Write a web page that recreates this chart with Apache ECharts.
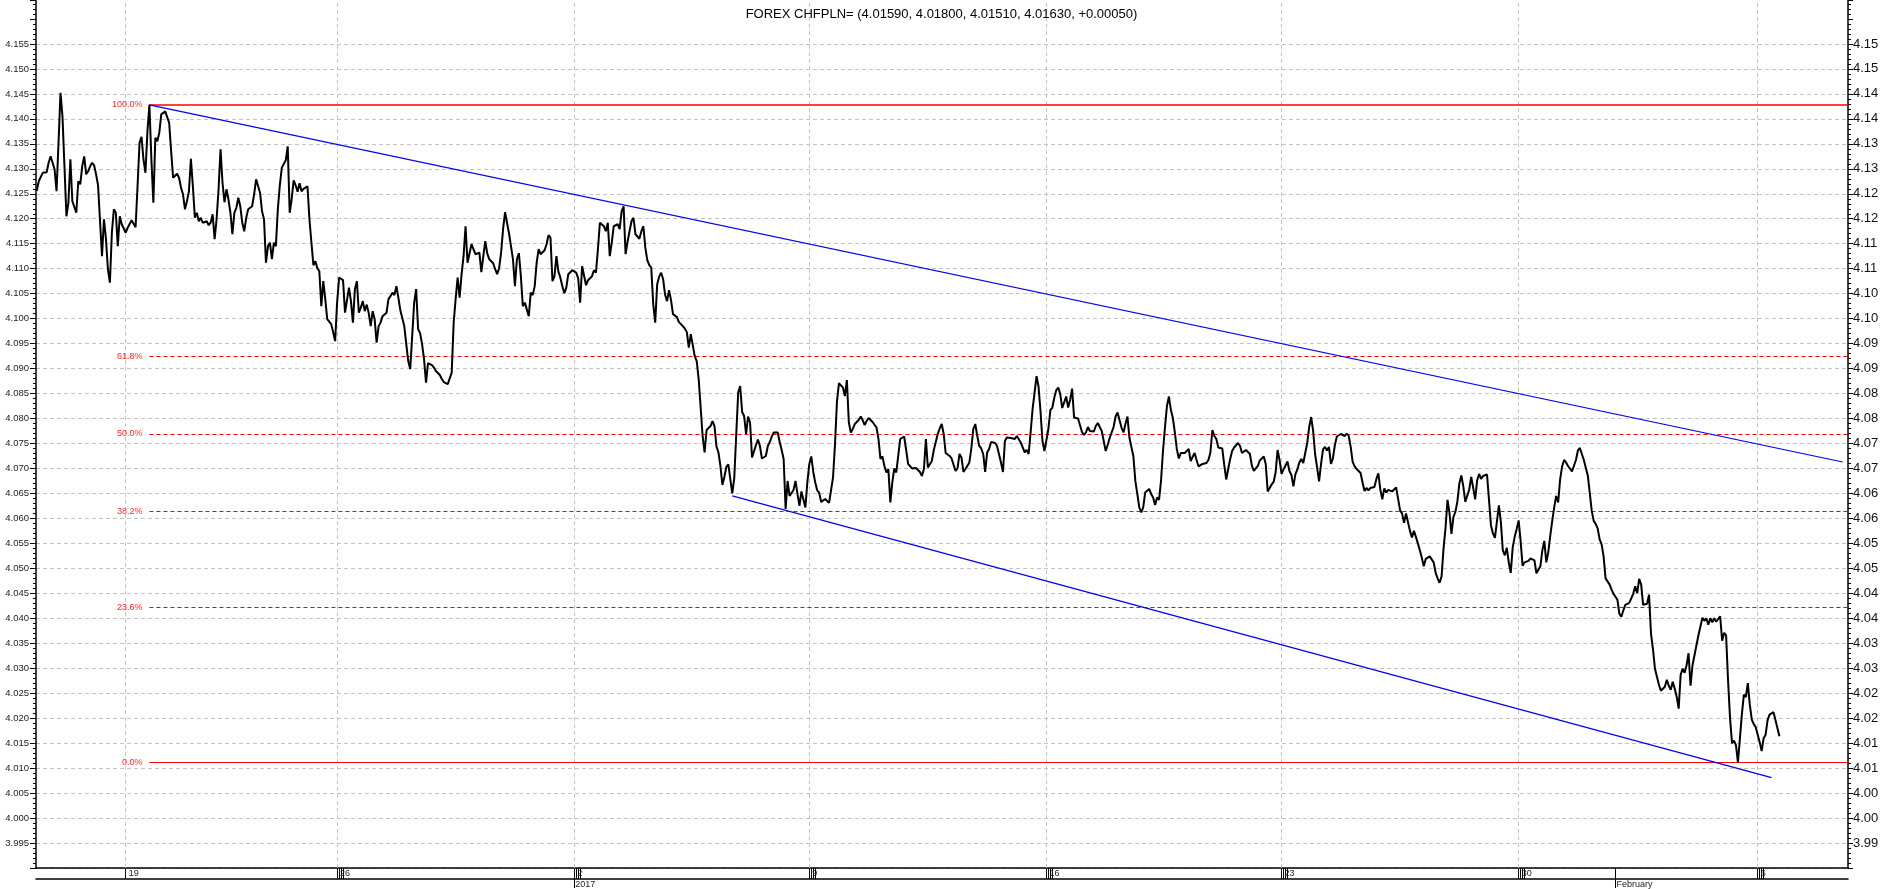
<!DOCTYPE html>
<html>
<head>
    <meta charset="utf-8">
    <title>FOREX CHFPLN=</title>
    <script src="https://cdn.jsdelivr.net/npm/echarts@6.0.0/dist/echarts.min.js"></script>
    <style>
        html, body { margin: 0; padding: 0; background: #fff; }
        #echarts { width: 1883px; height: 889px; }
    </style>
</head>
<body>
<div id="echarts"></div>
<script>
    // hourly closes, trading hours counted from Mon 19 Dec 00:00 (weekends removed)
    var startHour = -44;
    var closes = [
        4.1256,4.1275,4.1277,4.1292,4.1292,4.1293,4.1312,4.1325,4.1329,4.1299,
        4.1255,4.1352,4.1452,4.1405,4.1305,4.1205,4.1232,4.1319,4.1235,4.1239,
        4.1212,4.1275,4.1269,4.1305,4.1325,4.1289,4.1295,4.1305,4.1312,4.1307,
        4.1289,4.1267,4.1267,4.1125,4.1199,4.1160,4.1099,4.1072,4.1172,4.1219,
        4.1212,4.1145,4.1205,4.1189,4.1192,4.1172,4.1182,4.1185,4.1197,4.1190,
        4.1183,4.1265,4.1352,4.1364,4.1319,4.1292,4.1375,4.1428,4.1319,4.1232,
        4.1362,4.1355,4.1372,4.1409,4.1411,4.1415,4.1419,4.1392,4.1335,4.1282,
        4.1281,4.1290,4.1282,4.1262,4.1249,4.1219,4.1235,4.1255,4.1320,4.1265,
        4.1202,4.1212,4.1195,4.1202,4.1192,4.1194,4.1195,4.1187,4.1192,4.1209,
        4.1159,4.1199,4.1259,4.1339,4.1272,4.1233,4.1259,4.1239,4.1212,4.1169,
        4.1212,4.1222,4.1242,4.1225,4.1192,4.1175,4.1202,4.1219,4.1215,4.1225,
        4.1249,4.1279,4.1282,4.1252,4.1215,4.1199,4.1112,4.1145,4.1152,4.1119,
        4.1152,4.1145,4.1219,4.1267,4.1302,4.1305,4.1317,4.1345,4.1212,4.1239,
        4.1277,4.1267,4.1254,4.1271,4.1255,4.1260,4.1257,4.1265,4.1199,4.1152,
        4.1107,4.1115,4.1101,4.1095,4.1025,4.1075,4.1039,4.0999,4.1002,4.0989,
        4.0973,4.0955,4.1032,4.1082,4.1082,4.1077,4.1012,4.1015,4.1062,4.1035,
        4.0992,4.1059,4.1075,4.1012,4.1022,4.1035,4.1015,4.1028,4.1011,4.0985,
        4.1015,4.0999,4.0952,4.0985,4.0992,4.1005,4.1009,4.1012,4.1039,4.1045,
        4.1052,4.1047,4.1065,4.1042,4.1017,4.1015,4.0985,4.0949,4.0915,4.0899,
        4.0965,4.1032,4.1059,4.0979,4.0971,4.0949,4.0919,4.0872,4.0911,4.0913,
        4.0907,4.0902,4.0895,4.0891,4.0887,4.0879,4.0873,4.0869,4.0869,4.0872,
        4.0892,4.0992,4.1040,4.1082,4.1042,4.1089,4.1125,4.1185,4.1112,4.1113,
        4.1149,4.1152,4.1129,4.1129,4.1132,4.1093,4.1125,4.1155,4.1130,4.1119,
        4.1115,4.1111,4.1099,4.1089,4.1101,4.1132,4.1179,4.1213,4.1209,4.1171,
        4.1172,4.1119,4.1065,4.1119,4.1131,4.1085,4.1025,4.1032,4.1029,4.1005,
        4.1052,4.1047,4.1065,4.1112,4.1139,4.1129,4.1132,4.1137,4.1149,4.1167,
        4.1162,4.1075,4.1085,4.1125,4.1094,4.1082,4.1065,4.1051,4.1062,4.1089,
        4.1092,4.1097,4.1095,4.1092,4.1081,4.1032,4.1105,4.1105,4.1067,4.1077,
        4.1079,4.1085,4.1097,4.1092,4.1139,4.1192,4.1192,4.1185,4.1175,4.1192,
        4.1125,4.1152,4.1185,4.1186,4.1189,4.1179,4.1215,4.1225,4.1129,4.1154,
        4.1175,4.1195,4.1202,4.1169,4.1169,4.1160,4.1175,4.1185,4.1142,4.1117,
        4.1107,4.1102,4.1029,4.0992,4.1069,4.1084,4.1092,4.1079,4.1048,4.1035,
        4.1057,4.1037,4.1009,4.1009,4.1003,4.0993,4.0995,4.0985,4.0980,4.0973,
        4.0942,4.0969,4.0968,4.0925,4.0915,4.0879,4.0822,4.0764,4.0732,4.0777,
        4.0777,4.0785,4.0795,4.0785,4.0744,4.0732,4.0705,4.0667,4.0683,4.0703,
        4.0708,4.0679,4.0650,4.0680,4.0767,4.0852,4.0865,4.0813,4.0805,4.0769,
        4.0804,4.0792,4.0722,4.0718,4.0747,4.0758,4.0745,4.0720,4.0721,4.0725,
        4.0745,4.0753,4.0764,4.0772,4.0769,4.0772,4.0753,4.0737,4.0719,4.0619,
        4.0675,4.0645,4.0647,4.0657,4.0675,4.0649,4.0625,4.0654,4.0653,4.0622,
        4.0672,4.0709,4.0724,4.0693,4.0672,4.0656,4.0651,4.0633,4.0637,4.0639,
        4.0635,4.0631,4.0629,4.0682,4.0749,4.0835,4.0871,4.0872,4.0862,4.0845,
        4.0877,4.0792,4.0772,4.0779,4.0789,4.0790,4.0797,4.0804,4.0797,4.0787,
        4.0795,4.0801,4.0797,4.0793,4.0795,4.0782,4.0759,4.0719,4.0724,4.0705,
        4.0692,4.0699,4.0632,4.0672,4.0700,4.0692,4.0689,4.0759,4.0759,4.0764,
        4.0737,4.0709,4.0712,4.0700,4.0704,4.0701,4.0700,4.0693,4.0685,4.0699,
        4.0759,4.0702,4.0705,4.0715,4.0737,4.0740,4.0769,4.0780,4.0789,4.0769,
        4.0731,4.0727,4.0725,4.0720,4.0719,4.0695,4.0700,4.0729,4.0722,4.0693,
        4.0699,4.0703,4.0712,4.0740,4.0779,4.0789,4.0765,4.0745,4.0740,4.0729,
        4.0693,4.0732,4.0739,4.0753,4.0752,4.0751,4.0745,4.0742,4.0712,4.0693,
        4.0755,4.0762,4.0764,4.0761,4.0765,4.0759,4.0765,4.0767,4.0752,4.0755,
        4.0732,4.0737,4.0729,4.0772,4.0819,4.0852,4.0885,4.0864,4.0815,4.0755,
        4.0735,4.0733,4.0779,4.0817,4.0822,4.0842,4.0857,4.0862,4.0849,4.0821,
        4.0825,4.0844,4.0822,4.0837,4.0860,4.0802,4.0799,4.0800,4.0803,4.0773,
        4.0767,4.0772,4.0783,4.0775,4.0775,4.0774,4.0785,4.0791,4.0787,4.0775,
        4.0772,4.0735,4.0747,4.0761,4.0772,4.0783,4.0804,4.0812,4.0809,4.0782,
        4.0772,4.0789,4.0804,4.0762,4.0743,4.0725,4.0675,4.0649,4.0622,4.0612,
        4.0622,4.0652,4.0652,4.0659,4.0649,4.0642,4.0627,4.0642,4.0637,4.0675,
        4.0735,4.0782,4.0825,4.0844,4.0817,4.0801,4.0772,4.0739,4.0720,4.0731,
        4.0727,4.0731,4.0731,4.0739,4.0715,4.0715,4.0731,4.0717,4.0704,4.0705,
        4.0709,4.0711,4.0711,4.0717,4.0732,4.0777,4.0765,4.0759,4.0742,4.0739,
        4.0740,4.0707,4.0678,4.0699,4.0719,4.0735,4.0742,4.0745,4.0751,4.0745,
        4.0731,4.0731,4.0737,4.0741,4.0729,4.0705,4.0695,4.0692,4.0705,4.0716,
        4.0720,4.0724,4.0709,4.0654,4.0654,4.0668,4.0673,4.0692,4.0737,4.0717,
        4.0689,4.0698,4.0695,4.0714,4.0695,4.0687,4.0664,4.0688,4.0698,4.0712,
        4.0719,4.0711,4.0711,4.0751,4.0783,4.0803,4.0775,4.0728,4.0702,4.0674,
        4.0709,4.0738,4.0743,4.0736,4.0743,4.0709,4.0720,4.0747,4.0764,4.0768,
        4.0769,4.0773,4.0765,4.0770,4.0765,4.0743,4.0713,4.0704,4.0699,4.0702,
        4.0691,4.0672,4.0655,4.0661,4.0656,4.0661,4.0658,4.0663,4.0679,4.0690,
        4.0658,4.0638,4.0660,4.0652,4.0657,4.0655,4.0654,4.0650,4.0662,4.0662,
        4.0616,4.0610,4.0591,4.0610,4.0611,4.0575,4.0562,4.0575,4.0563,4.0550,
        4.0536,4.0521,4.0504,4.0519,4.0523,4.0524,4.0526,4.0512,4.0491,4.0480,
        4.0471,4.0484,4.0540,4.0581,4.0637,4.0611,4.0569,4.0603,4.0613,4.0634,
        4.0670,4.0686,4.0664,4.0633,4.0630,4.0658,4.0683,4.0661,4.0638,4.0676,
        4.0689,4.0679,4.0685,4.0688,4.0688,4.0637,4.0586,4.0570,4.0561,4.0561,
        4.0626,4.0593,4.0536,4.0526,4.0541,4.0512,4.0491,4.0542,4.0563,4.0579,
        4.0596,4.0555,4.0505,4.0512,4.0513,4.0515,4.0520,4.0517,4.0516,4.0490,
        4.0486,4.0504,4.0536,4.0555,4.0512,4.0532,4.0565,4.0595,4.0622,4.0645,
        4.0632,4.0678,4.0704,4.0717,4.0712,4.0705,4.0702,4.0694,4.0696,4.0717,
        4.0736,4.0741,4.0729,4.0717,4.0719,4.0686,4.0651,4.0615,4.0595,4.0589,
        4.0580,4.0558,4.0548,4.0524,4.0480,4.0479,4.0468,4.0458,4.0449,4.0446,
        4.0437,4.0409,4.0403,4.0416,4.0427,4.0427,4.0431,4.0433,4.0449,4.0464,
        4.0450,4.0479,4.0468,4.0427,4.0429,4.0429,4.0447,4.0369,4.0338,4.0299,
        4.0295,4.0267,4.0255,4.0253,4.0263,4.0277,4.0265,4.0257,4.0273,4.0259,
        4.0243,4.0219,4.0287,4.0299,4.0291,4.0306,4.0330,4.0265,4.0306,4.0307,
        4.0346,4.0366,4.0363,4.0401,4.0395,4.0400,4.0387,4.0400,4.0392,4.0400,
        4.0393,4.0391,4.0404,4.0355,4.0371,4.0366,4.0275,4.0200,4.0150,4.0155,
        4.0146,4.0111,4.0160,4.0208,4.0247,4.0242,4.0270,4.0227,4.0197,4.0188,
        4.0182,4.0180,4.0152,4.0134,4.0160,4.0167,4.0196,4.0207,4.0206,4.0212,
        4.0212,4.0180,4.0164
    ];

    // weeks (Mondays) and month marks on the time band
    var weekHours = [1, 108, 228, 347, 467, 586, 706, 827];
    var weekLabels = ['19', '26', '2', '9', '16', '23', '30', '6'];
    var monthHours = [228, 755];
    var monthLabels = ['2017', 'February'];

    // fibonacci retracement
    var fibStartHour = 13;
    var fibHigh = 4.1428;
    var fibLow = 4.0111;
    var fibRatios = [1, 0.618, 0.5, 0.382, 0.236, 0];
    var fibLabels = ['100.0%', '61.8%', '50.0%', '38.2%', '23.6%', '0.0%'];

    // trend channel
    var upperTrend = [[13, 4.1428], [870, 4.0713]];
    var lowerTrend = [[308, 4.0645], [834, 4.0081]];

    var titleText = 'FOREX CHFPLN= (4.01590, 4.01800, 4.01510, 4.01630, +0.00050)';

    var xMin = -44.4, xMax = 872.7;
    var yMin = 3.990, yMax = 4.1638;
    var font = 'Liberation Sans, Arial, sans-serif';

    var priceData = closes.map(function (v, i) { return [startHour + i, v]; });

    // band ticks: monday clusters + month start
    var bandTicks = [];
    weekHours.forEach(function (h, i) {
        bandTicks.push(h);
        if (i > 0) { bandTicks.push(h + 1, h + 2, h + 3); }
    });
    bandTicks.push(monthHours[1]);

    var fibMarks = fibRatios.map(function (r, i) {
        var lvl = fibLow + r * (fibHigh - fibLow);
        var solid = (r === 1 || r === 0);
        return [
            {
                name: fibLabels[i],
                coord: [fibStartHour, lvl],
                lineStyle: { color: '#ff0000', width: r === 1 ? 1.6 : 1, type: solid ? 'solid' : [4, 3] }
            },
            { coord: [xMax, lvl] }
        ];
    });

    // no grid line at 4.160 and at the top edge
    var splitColors = [];
    for (var i = 0; i < 36; i++) { splitColors.push(i >= 34 ? 'rgba(0,0,0,0)' : '#c4c4c4'); }

    var leftLabel = function (v) { return v > 4.1575 ? '' : v.toFixed(3); };
    var rightLabel = function (v) {
        if (v > 4.1575) return '';
        return (Math.floor(v * 100 + 1e-6) / 100).toFixed(2);
    };

    var myChart = echarts.init(document.getElementById('echarts'));
    var option = {
        animation: false,
        backgroundColor: '#ffffff',
        textStyle: { fontFamily: font },
        title: {
            text: titleText,
            left: 'center',
            top: 3,
            textStyle: { fontSize: 13, fontWeight: 'normal', color: '#000', fontFamily: font }
        },
        grid: { left: 36, right: 35, top: 0, bottom: 19, containLabel: false },
        xAxis: [{
            type: 'value',
            min: xMin,
            max: xMax,
            position: 'bottom',
            splitLine: { show: false },
            axisLine: { show: true, onZero: false, lineStyle: { color: '#000', width: 1.5 } },
            axisTick: { show: true, inside: false, length: 11, customValues: bandTicks, lineStyle: { color: '#000', width: 1 } },
            axisLabel: {
                show: true,
                customValues: weekHours,
                formatter: function (v) { return weekLabels[weekHours.indexOf(v)] || ''; },
                align: 'left',
                margin: 1,
                padding: [0, 0, 0, 3],
                fontSize: 9,
                color: '#222'
            }
        }, {
            type: 'value',
            min: xMin,
            max: xMax,
            position: 'bottom',
            offset: 11,
            splitLine: { show: false },
            axisLine: { show: true, onZero: false, lineStyle: { color: '#000', width: 1.5 } },
            axisTick: { show: true, inside: false, length: 9, customValues: monthHours, lineStyle: { color: '#000', width: 1 } },
            axisLabel: {
                show: true,
                customValues: monthHours,
                formatter: function (v) { return monthLabels[monthHours.indexOf(v)] || ''; },
                align: 'left',
                margin: 1,
                padding: [0, 0, 0, 1],
                fontSize: 9,
                color: '#222'
            }
        }],
        yAxis: [{
            type: 'value',
            position: 'left',
            min: yMin,
            max: yMax,
            interval: 0.005,
            axisLine: { show: true, onZero: false, lineStyle: { color: '#000', width: 1.5 } },
            axisTick: { show: true, length: 6, lineStyle: { color: '#000' } },
            minorTick: { show: true, splitNumber: 5, length: 3, lineStyle: { color: '#000' } },
            axisLabel: { formatter: leftLabel, showMinLabel: false, fontSize: 9.5, margin: 7, color: '#1b1b1b' },
            splitLine: { show: true, showMaxLine: false, lineStyle: { color: splitColors, type: [4, 3], width: 1 } }
        }, {
            type: 'value',
            position: 'right',
            min: yMin,
            max: yMax,
            interval: 0.005,
            axisLine: { show: true, onZero: false, lineStyle: { color: '#000', width: 1.5 } },
            axisTick: { show: true, length: 5, lineStyle: { color: '#000' } },
            minorTick: { show: true, splitNumber: 5, length: 3, lineStyle: { color: '#000' } },
            axisLabel: { formatter: rightLabel, showMinLabel: false, fontSize: 13, margin: 5, color: '#111' },
            splitLine: { show: false }
        }],
        series: [{
            name: 'upper',
            type: 'line',
            data: upperTrend,
            showSymbol: false,
            silent: true,
            z: 2,
            lineStyle: { color: '#0000ff', width: 1.2 },
            markLine: {
                silent: true,
                z: 2,
                symbol: ['none', 'none'],
                label: {
                    show: true,
                    position: 'start',
                    formatter: '{b}',
                    color: '#ff2a2a',
                    fontSize: 9,
                    distance: 7
                },
                data: fibMarks
            }
        }, {
            name: 'lower',
            type: 'line',
            data: lowerTrend,
            showSymbol: false,
            silent: true,
            z: 2,
            lineStyle: { color: '#0000ff', width: 1.2 },
            markLine: {
                silent: true,
                z: 1,
                symbol: ['none', 'none'],
                label: { show: false },
                lineStyle: { color: '#c4c4c4', type: [4, 3], width: 1 },
                data: weekHours.map(function (h) { return { xAxis: h }; })
            }
        }, {
            name: 'CHFPLN',
            type: 'line',
            data: priceData,
            showSymbol: false,
            silent: true,
            z: 3,
            lineStyle: { color: '#000', width: 2 }
        }]
    };
    myChart.setOption(option);
</script>
</body>
</html>
